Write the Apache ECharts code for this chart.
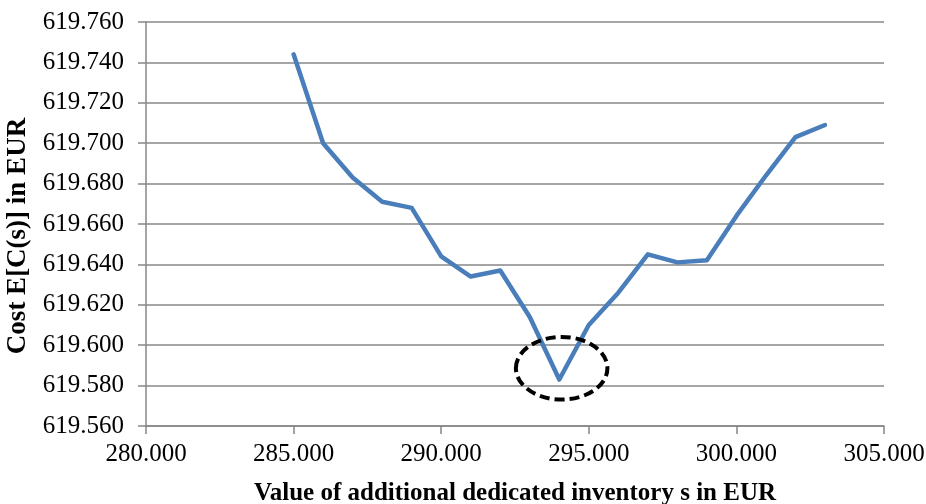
<!DOCTYPE html>
<html>
<head>
<meta charset="utf-8">
<script src="https://cdn.jsdelivr.net/npm/echarts@6/dist/echarts.min.js"></script>
<style>
html,body{margin:0;padding:0;background:#fff;}
#chart{width:926px;height:504px;}
</style>
</head>
<body>
<div id="chart"></div>
<script>
var xValues = [285, 286, 287, 288, 289, 290, 291, 292, 293, 294, 295, 296, 297, 298, 299, 300, 301, 302, 303];
var costValues = [619.744, 619.700, 619.683, 619.671, 619.668, 619.644, 619.634, 619.637, 619.614, 619.583, 619.610, 619.626, 619.645, 619.641, 619.642, 619.664, 619.684, 619.703, 619.709];
var yTicks = [619.560, 619.580, 619.600, 619.620, 619.640, 619.660, 619.680, 619.700, 619.720, 619.740, 619.760];
var xTicks = [280, 285, 290, 295, 300, 305];
// highlighted minimum (ellipse annotation): centre and half-extent in data units
var highlightCenter = [294.08, 619.5886];
var highlightHalf = [1.55, 0.0155];

var chart = echarts.init(document.getElementById('chart'), null, {renderer: 'canvas'});
var serif = '"Liberation Serif", "Times New Roman", serif';
var gray = '#878787';

var option = {
  animation: false,
  grid: {left: 146, right: 42, top: 22, bottom: 78, containLabel: false, outerBoundsMode: 'none'},
  xAxis: {
    type: 'value',
    min: xTicks[0], max: xTicks[xTicks.length - 1], interval: 5,
    name: 'Value of additional dedicated inventory s in EUR',
    nameLocation: 'middle', nameGap: 55,
    nameTextStyle: {fontFamily: serif, fontSize: 25, fontWeight: 'bold', color: '#000'},
    axisLine: {lineStyle: {color: gray, width: 1.5}},
    axisTick: {show: true, length: 8, lineStyle: {color: gray, width: 1.5}},
    axisLabel: {fontFamily: serif, fontSize: 25, color: '#000', margin: 16,
      formatter: function (v) { return v.toFixed(3); }},
    splitLine: {show: false}
  },
  yAxis: {
    type: 'value',
    min: yTicks[0], max: yTicks[yTicks.length - 1], interval: 0.02,
    name: 'Cost E[C(s)] in EUR',
    nameLocation: 'middle', nameGap: 107,
    nameTextStyle: {fontFamily: serif, fontSize: 27, fontWeight: 'bold', color: '#000', padding: [0, 24, 0, 0]},
    axisLine: {show: true, lineStyle: {color: gray, width: 1.5}},
    axisTick: {show: true, length: 8, lineStyle: {color: gray, width: 1.5}},
    axisLabel: {fontFamily: serif, fontSize: 25, color: '#000', margin: 22,
      formatter: function (v) { return v.toFixed(3); }},
    splitLine: {show: true, lineStyle: {color: gray, width: 1.5}}
  },
  series: [{
    type: 'line',
    data: xValues.map(function (x, i) { return [x, costValues[i]]; }),
    showSymbol: false,
    lineStyle: {color: '#4a7ebb', width: 4.5, join: 'round', cap: 'round'},
    itemStyle: {color: '#4a7ebb'}
  }]
};
chart.setOption(option);

var c = chart.convertToPixel({gridIndex: 0}, highlightCenter);
var e = chart.convertToPixel({gridIndex: 0}, [highlightCenter[0] + highlightHalf[0], highlightCenter[1] + highlightHalf[1]]);
chart.setOption({
  graphic: [{
    type: 'ellipse',
    shape: {cx: c[0], cy: c[1], rx: Math.abs(e[0] - c[0]), ry: Math.abs(e[1] - c[1])},
    style: {fill: 'none', stroke: '#000', lineWidth: 4, lineDash: [10, 5]},
    z: 100
  }]
});
</script>
</body>
</html>
